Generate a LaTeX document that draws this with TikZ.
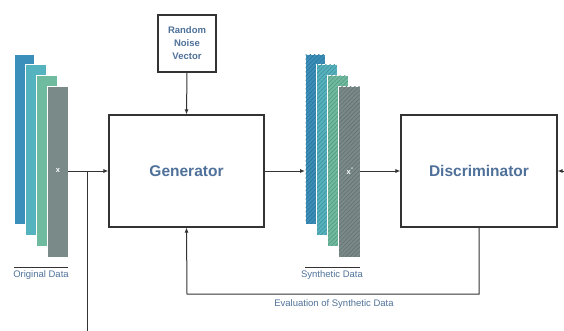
\documentclass[tikz,border=0pt]{standalone}
\usepackage{fontspec}
\setmainfont{Liberation Sans}
\usetikzlibrary{arrows.meta,patterns.meta}
\definecolor{txt}{HTML}{4F7199}
\definecolor{cA}{HTML}{3A90BA}
\definecolor{cB}{HTML}{55B3BF}
\definecolor{cC}{HTML}{6FBBA0}
\definecolor{cD}{HTML}{798A89}
\definecolor{ln}{HTML}{333333}
\tikzset{
  blk/.style={draw=ln,line width=1.1pt,fill=white,inner sep=0pt},
  con/.style={draw=ln,line width=1pt},
  arr/.style={con,-{Latex[length=5pt,width=4pt]}},
  bar/.style={draw=white,line width=0.8pt},
  hatch/.style={pattern={Lines[angle=45,distance=3pt,line width=0.75pt]},pattern color=#1,draw=none},
  lbl/.style={text=txt,font=\fontsize{9.5}{11}\selectfont,inner sep=0pt},
  xl/.style={text=white,font=\bfseries\fontsize{7.5}{9}\selectfont,inner sep=0pt},
}
\begin{document}
\begin{tikzpicture}[x=1pt,y=-1pt]
\useasboundingbox (0,0) rectangle (564,331);
% original data bars
\fill[bar,fill=cA] (14,54) rectangle (34,224);
\fill[bar,fill=cB] (25.5,64.5) rectangle (46,235);
\fill[bar,fill=cC] (36.5,75) rectangle (57,246);
\fill[bar,fill=cD] (47.5,86) rectangle (68,257);
\node[xl] (x) at (58,171) {x};
\coordinate (od) at (68,171);
\draw[ln,line width=0.9pt] (14,267) -- (68,267);
\node[lbl] (odl) at (41,275) {Original Data};
% synthetic bars
\filldraw[bar,fill=cA] (305,54) rectangle (325,224);
\fill[hatch=cA!82!black] (305.5,54.5) rectangle (324.5,223.5);
\filldraw[bar,fill=cB] (316.5,64.5) rectangle (337,235);
\fill[hatch=cB!82!black] (317,65) rectangle (336.5,234.5);
\filldraw[bar,fill=cC] (327.5,75) rectangle (348,246);
\fill[hatch=cC!82!black] (328,75.5) rectangle (347.5,245.5);
\filldraw[bar,fill=cD] (338.5,86) rectangle (360,257);
\fill[hatch=cD!85!black] (339,86.5) rectangle (359.5,256.5);
\node[xl] (xs) at (350,171) {x\raisebox{0.8ex}{\fontsize{5}{5}\selectfont''}};
\coordinate (sdin) at (305,171);
\coordinate (sdout) at (360,171);
\draw[ln,line width=0.9pt] (305,267) -- (360,267);
\node[lbl] (sdl) at (332,275) {Synthetic Data};
% boxes
\node[blk,minimum width=155pt,minimum height=112pt,text=txt,font=\bfseries\fontsize{15.5}{18}\selectfont] (gen) at (186.5,171) {Generator};
\node[blk,minimum width=156pt,minimum height=112pt,text=txt,font=\bfseries\fontsize{15.5}{18}\selectfont] (dis) at (479,171) {Discriminator};
\node[blk,minimum width=58pt,minimum height=57pt,text=txt,align=center,font=\bfseries\fontsize{9.5}{13}\selectfont] (rnv) at (187,43.5) {Random\\Noise\\Vector};
% connectors
\draw[arr] (od) -- (gen.west);
\coordinate (bt) at (87,331);
\draw[con] (87,171) -- (bt);
\draw[arr] (rnv.south) -- (gen.north);
\draw[arr] (gen.east) -- (sdin);
\draw[arr] (sdout) -- (dis.west);
\coordinate (rin) at (564,171);
\draw[arr] (rin) -- (dis.east);
\coordinate (fb1) at (479,294);
\coordinate (fb2) at (187,294);
\draw[arr] (dis.south) -- (fb1) -- (fb2) -- (gen.south);
\node[lbl] (evl) at (334,304) {Evaluation of Synthetic Data};
\end{tikzpicture}
\end{document}
